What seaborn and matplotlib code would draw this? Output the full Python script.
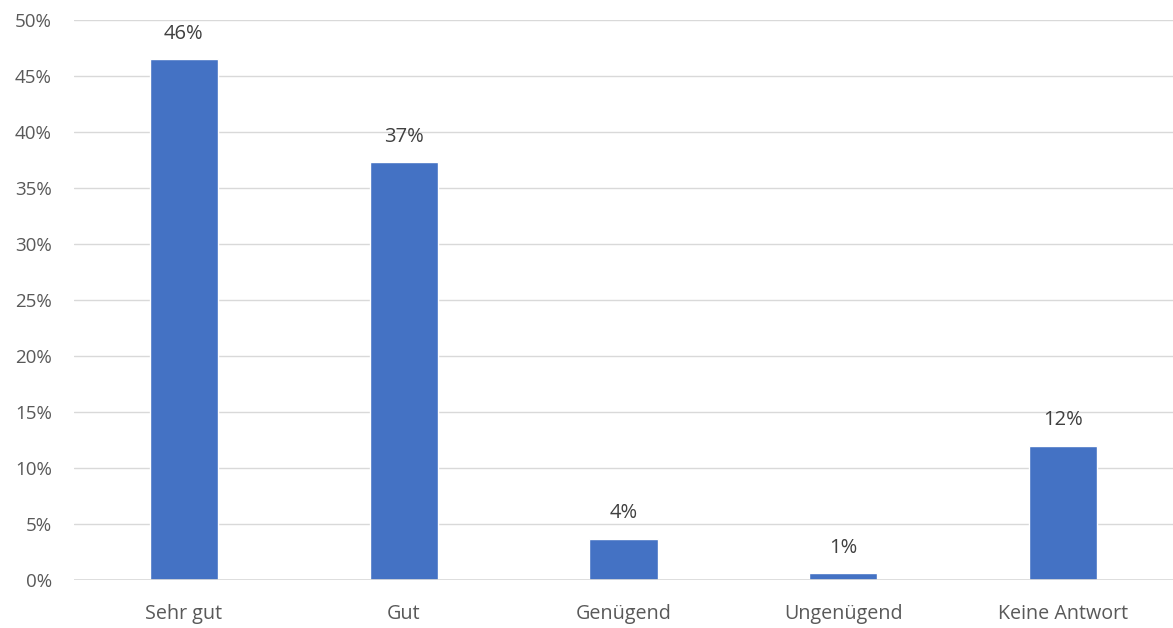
import matplotlib
matplotlib.use("Agg")
import matplotlib.pyplot as plt
import seaborn as sns
import pandas as pd
from matplotlib.ticker import MultipleLocator, FuncFormatter

categories = ["Sehr gut", "Gut", "Genügend", "Ungenügend", "Keine Antwort"]
values = [46.5, 37.3, 3.7, 0.6, 12.0]
value_labels = ["46%", "37%", "4%", "1%", "12%"]

df = pd.DataFrame({"cat": categories, "val": values})

sns.set_theme(style="white")
plt.rcParams['font.family'] = ['Open Sans', 'DejaVu Sans']

fig = plt.figure(figsize=(11.73, 6.28), dpi=100)
ax = fig.add_axes([74/1173, 1-580/628, 1-74/1173, (580-20)/628])

sns.barplot(data=df, x="cat", y="val", color="#4472C4", width=0.31,
            saturation=1, ax=ax, zorder=3)

ax.set_ylim(0, 50)
ax.set_xlim(-0.5, 4.5)
ax.yaxis.set_major_locator(MultipleLocator(5))
ax.yaxis.set_major_formatter(FuncFormatter(lambda v, p: f"{int(round(v))}%"))
ax.grid(axis="y", color="#D9D9D9", linewidth=1, zorder=0)
ax.grid(axis="x", visible=False)
for s in ax.spines.values():
    s.set_visible(False)
ax.axhline(0, color="#D9D9D9", linewidth=1.2, zorder=4)
ax.set_xlabel("")
ax.set_ylabel("")
ax.tick_params(axis="y", length=0, labelsize=13.5, colors="#595959", pad=16)
ax.tick_params(axis="x", length=0, labelsize=14.2, colors="#595959", pad=17)

for patch, lab in zip(ax.patches, value_labels):
    x = patch.get_x() + patch.get_width() / 2
    h = patch.get_height()
    ax.annotate(lab, (x, h), xytext=(0, 11), textcoords="offset points",
                ha="center", va="bottom", fontsize=14.5, color="#404040")

fig.savefig("out.png", dpi=100)
